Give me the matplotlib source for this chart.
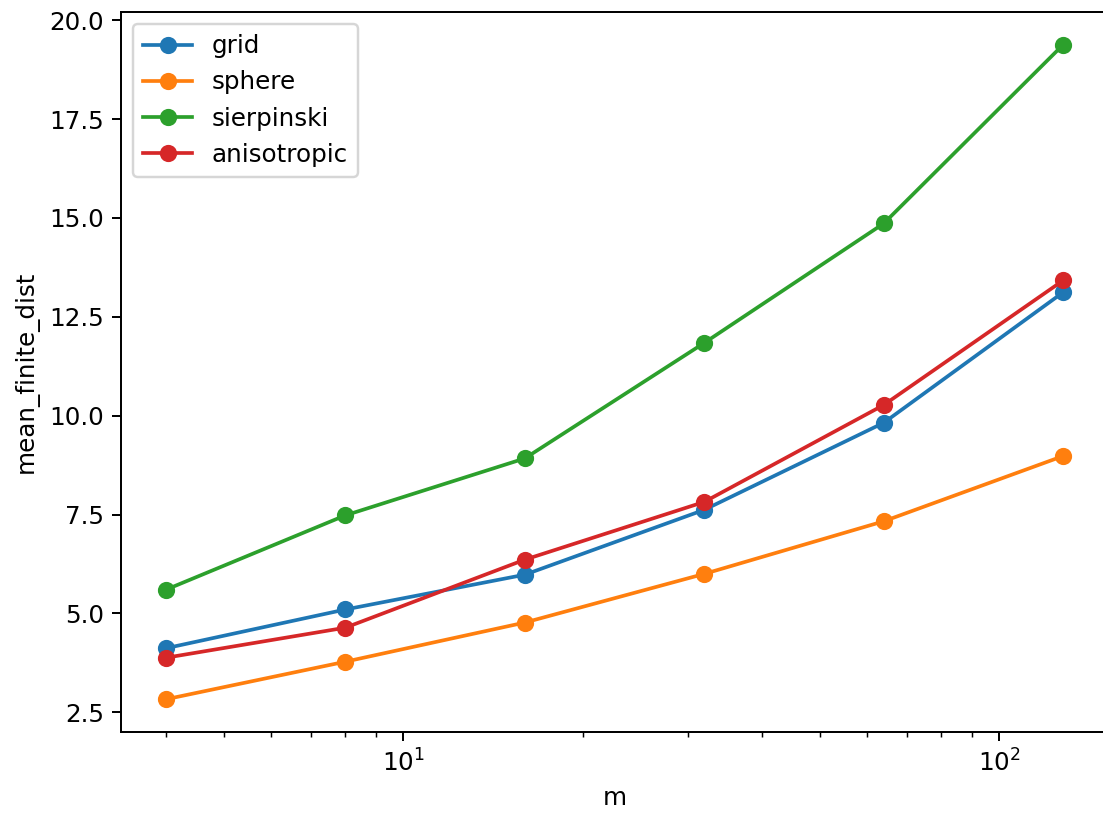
import matplotlib
matplotlib.use("Agg")
import matplotlib.pyplot as plt

m = [4, 8, 16, 32, 64, 128]
grid = [4.12, 5.10, 5.98, 7.62, 9.82, 13.12]
sphere = [2.83, 3.78, 4.77, 6.00, 7.33, 8.98]
sierpinski = [5.60, 7.48, 8.92, 11.84, 14.86, 19.38]
anisotropic = [3.88, 4.64, 6.36, 7.82, 10.27, 13.42]

series = [("grid", grid), ("sphere", sphere),
          ("sierpinski", sierpinski), ("anisotropic", anisotropic)]

DPI = 177
W, H = 1103, 813
fig, ax = plt.subplots(figsize=(W / DPI, H / DPI), dpi=DPI)
for name, vals in series:
    ax.plot(m, vals, marker="o", label=name)
ax.set_xscale("log")
ax.set_xlabel("m")
ax.set_ylabel("mean_finite_dist")
ax.legend(loc="upper left")
# the reference is cropped on the right, so the axes run just past the edge
fig.subplots_adjust(left=121 / W, right=1108 / W, top=1 - 12 / H, bottom=1 - 732 / H)
fig.savefig("out.png")
